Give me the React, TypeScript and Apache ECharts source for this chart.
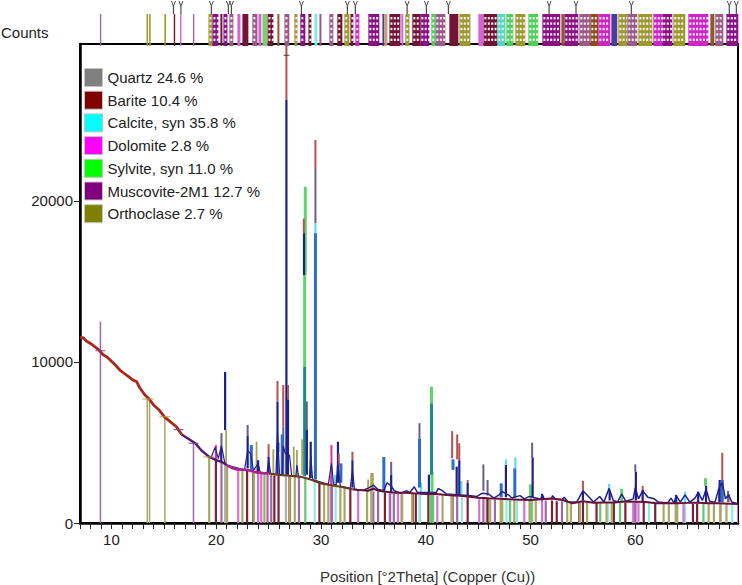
import React, { useEffect, useRef } from "react";
import * as echarts from "echarts";

type Row = number[];

const PHASE_NAMES = ["Quartz 24.6 %", "Barite 10.4 %", "Calcite, syn 35.8 %", "Dolomite 2.8 %", "Sylvite, syn 11.0 %", "Muscovite-2M1 12.7 %", "Orthoclase 2.7 %"];
const PHASE_COLORS = ["#808080", "#800000", "#00ffff", "#ff00ff", "#00ff00", "#800080", "#808000"];
const STICK_COLORS = ["#b8aeae", "#7c1f33", "#8fe9e6", "#d473d4", "#62c872", "#9c68a6", "#a9a862"];

const xTickValues = [7, 8, 9, 10, 11, 12, 13, 14, 15, 16, 17, 18, 19, 20, 21, 22, 23, 24, 25, 26, 27, 28, 29, 30, 31, 32, 33, 34, 35, 36, 37, 38, 39, 40, 41, 42, 43, 44, 45, 46, 47, 48, 49, 50, 51, 52, 53, 54, 55, 56, 57, 58, 59, 60, 61, 62, 63, 64, 65, 66, 67, 68, 69];
const xLabelValues = [10, 20, 30, 40, 50, 60];
const yTickValues = [0, 10000, 20000];

// Reference sticks [2theta, height] per phase
const quartzSticks: Row[] = [[26.65, 2900], [20.85, 3600], [27.05, 2800], [39.45, 1700], [36.55, 1800], [50.15, 1450], [42.45, 1700], [45.8, 1500], [60.0, 1300], [68.15, 1200]];
const bariteSticks: Row[] = [[19.97, 3850], [22.95, 3250], [23.55, 3150], [25.55, 2950], [25.95, 2950], [27.0, 2900], [29.85, 2500], [32.8, 2150], [36.1, 1900], [38.75, 1850], [39.05, 1800], [40.25, 1750], [40.65, 1750], [42.55, 1700], [44.0, 1600], [45.9, 1500], [50.0, 1450], [52.05, 1400], [52.5, 1350], [54.65, 1280], [55.0, 1300], [56.3, 1300], [57.95, 1280], [59.05, 1250], [60.8, 1300], [61.9, 1250], [65.5, 1200], [65.9, 1200]];
const calciteSticks: Row[] = [[29.4, 2600], [31.4, 2350], [39.4, 1700], [43.45, 1650], [47.7, 1450], [48.7, 1450], [57.4, 1280], [61.3, 1230], [64.75, 1200], [69.25, 1150]];
const dolomiteSticks: Row[] = [[22.1, 3300], [24.0, 3150], [24.3, 3100], [30.95, 2900], [33.55, 2050], [37.35, 1800], [41.1, 1700], [45.1, 1500], [49.4, 1400], [51.1, 1400], [59.8, 1250], [59.95, 1250], [60.3, 1250], [64.6, 1200], [69.8, 1150]];
const sylviteSticks: Row[] = [[28.5, 2750], [40.45, 1750], [40.7, 1750], [48.05, 1450], [50.05, 1500], [56.65, 1300], [58.55, 1280], [66.5, 1200]];
const muscoviteSticks: Row[] = [[8.95, 12500], [17.83, 4950], [20.5, 3750], [24.9, 3050], [25.25, 3000], [27.9, 2900], [31.05, 2350], [35.0, 1950], [35.45, 1950], [36.6, 1850], [36.95, 1800], [37.7, 1800], [43.0, 1650], [45.5, 1500], [46.6, 1450], [51.45, 1400], [53.0, 1350], [60.0, 1280]];
const orthoclaseSticks: Row[] = [[13.42, 7750], [13.64, 7700], [15.1, 6600], [19.33, 4150], [21.04, 3550], [22.5, 3280], [23.6, 3200], [24.6, 3050], [27.0, 2950], [27.5, 2900], [30.3, 2450], [30.7, 2400], [31.85, 2250], [32.25, 2200], [34.4, 2100], [34.8, 3100], [37.75, 1800], [38.7, 1850], [41.6, 1700], [42.5, 1720], [46.15, 1480], [47.15, 1450], [47.3, 1450], [48.45, 1420], [49.9, 1430], [50.5, 1400], [53.5, 1300], [53.85, 1280], [54.7, 1280], [55.4, 1280], [57.25, 1250], [57.75, 1250], [62.7, 1220], [63.2, 1220], [63.85, 1220], [64.0, 1220], [67.0, 1180], [67.5, 1180], [68.1, 1180], [68.7, 1170]];
const STICKS = [quartzSticks, bariteSticks, calciteSticks, dolomiteSticks, sylviteSticks, muscoviteSticks, orthoclaseSticks];

// Peak segments [2theta, low, high]
const peaksNavy: Row[] = [[26.7, 3000, 26300], [28.38, 15400, 18000], [20.85, 5770, 9380], [23.0, 3400, 5400], [25.85, 3000, 7530], [26.85, 3000, 7680], [28.65, 3000, 5800], [29.02, 2800, 5050], [31.62, 2500, 5050], [33.0, 2200, 3900], [20.48, 3800, 4620], [25.0, 3100, 4100], [24.0, 3100, 3900], [50.2, 1600, 4080], [47.65, 1600, 3600], [60.05, 1400, 3180], [68.05, 1300, 2670], [36.7, 1900, 3000], [44.0, 1700, 2500], [55.0, 1400, 2000], [57.55, 1400, 2000], [60.7, 1300, 2050], [63.9, 1200, 1750], [66.0, 1250, 1950], [66.75, 1250, 2300], [51.1, 1400, 1800], [42.95, 1700, 3500], [43.2, 1700, 3900], [40.3, 1800, 3000]];
const peaksBlue: Row[] = [[29.47, 2700, 18000], [23.35, 3300, 4840], [36.0, 1900, 4100], [39.4, 2200, 5250], [42.6, 3300, 3950], [48.5, 1600, 3400], [47.2, 1600, 2460], [68.3, 1300, 2670], [25.9, 4400, 5000], [31.9, 2500, 3700], [26.3, 3000, 5500]];
const peaksRed: Row[] = [[26.7, 26300, 29750], [29.47, 22050, 23790], [28.36, 18000, 18900], [25.85, 7530, 8820], [26.4, 6000, 8570], [26.85, 7680, 8570], [42.52, 4020, 5710], [43.0, 3950, 5500], [43.2, 3900, 4950], [68.3, 2670, 4360], [33.0, 3900, 4430], [31.7, 3500, 4300], [44.0, 2500, 2670], [55.0, 2000, 2620], [25.0, 4100, 4900], [60.7, 2050, 2300]];
const peaksSlate: Row[] = [[29.47, 18630, 22050], [23.0, 5400, 6090], [26.4, 3000, 6000], [39.4, 5250, 6200], [60.0, 3180, 3640], [50.15, 4080, 4990], [45.5, 2000, 3640], [68.85, 1300, 2000], [45.9, 1700, 2670], [36.7, 3000, 3800], [28.65, 5800, 7540], [20.5, 4620, 5580], [68.0, 1300, 2000]];
const peaksGreen: Row[] = [[28.44, 9690, 15400], [28.5, 15400, 20870], [40.55, 7430, 8470], [40.6, 1800, 3200], [58.7, 1300, 2130], [66.7, 2300, 2780], [50.0, 1500, 2400]];
const peaksTeal: Row[] = [[28.44, 2900, 9690], [40.55, 3000, 7430]];
const peaksCyan: Row[] = [[29.47, 18000, 18630], [47.65, 3600, 3950], [48.55, 3400, 4080], [39.55, 1700, 2500], [57.5, 2000, 2440], [64.75, 1200, 1950], [43.4, 1700, 2600], [31.35, 2350, 3000]];
const peaksOlive: Row[] = [[20.95, 3700, 5770], [23.85, 3200, 5050], [25.45, 3000, 4570], [27.4, 2900, 4740], [34.95, 2000, 3100], [34.5, 2000, 2700], [28.2, 3000, 5200], [27.7, 2900, 4530]];
const peaksPink: Row[] = [[31.0, 2400, 4840], [19.97, 3900, 4840], [68.9, 1300, 1800]];
const PEAK_SETS: [Row[], string, number][] = [
  [peaksOlive, "#a6a45a", 1.8], [peaksPink, "#d8309a", 2], [peaksSlate, "#6a5f86", 2], [peaksCyan, "#5fdfe4", 2.2],
  [peaksGreen, "#5ed56a", 3], [peaksTeal, "#1f8a80", 3], [peaksBlue, "#2f6cc4", 3], [peaksNavy, "#1c1f8c", 2.2], [peaksRed, "#b5524e", 2],
];

// Fitted profile pieces [2theta, counts]
const profileRed: Row[] = [[7, 11550], [7.3, 11500], [7.6, 11300], [8, 11150], [8.4, 10950], [8.8, 10750], [9.2, 10450], [9.6, 10300], [10, 10050], [10.4, 9800], [10.8, 9500], [11.2, 9300], [11.6, 9100], [12, 8900], [12.4, 8780], [12.7, 8400], [13.2, 7950], [13.6, 7700], [14, 7350], [14.5, 7050], [15.1, 6560], [15.6, 6300], [16.2, 5980], [16.7, 5500]];
const profilePurple: Row[] = [[16.7, 5500], [17.3, 5250], [18, 4950], [18.6, 4500], [19.3, 4120], [19.7, 4000], [20, 3900], [20.5, 3800], [21, 3600]];
const profileMagenta: Row[] = [[21, 3600], [21.5, 3420], [22, 3330], [23, 3290], [23.6, 3180], [24, 3130], [24.5, 3100], [25, 3080]];
const profileBrown: Row[] = [[25, 3080], [26, 2980], [27, 2930], [28, 2880], [29, 2700], [30, 2450], [31, 2350], [32, 2240], [33, 2100]];
const profileDark: Row[] = [[33, 2100], [33.5, 2050], [34, 2030], [34.5, 2000], [35, 2130], [35.5, 2000], [36, 1950], [37, 1885], [38, 1880], [39, 1840], [40, 1800], [41, 1800], [42, 1740], [43, 1700], [44, 1640], [45, 1570], [46, 1530], [47, 1500], [48, 1470], [49, 1450], [50, 1430], [51, 1470], [52, 1520], [53, 1440], [54, 1220], [55, 1350], [56, 1260], [57, 1280], [58, 1280], [59, 1330], [60, 1320], [61, 1300], [62, 1220], [63, 1230], [64, 1220], [65, 1250], [66, 1250], [67, 1230], [68, 1220], [69, 1200], [69.8, 1180]];
const profileBumps: Row[] = [[51, 1470], [51.1, 1800], [51.3, 1500], [52, 1520], [52.1, 1700], [52.4, 1480], [53, 1440], [53.2, 1600], [53.6, 1300], [54.4, 1300], [55, 2000], [55.6, 1600], [56, 1300], [56.6, 1650], [57, 1300], [57.5, 2150], [57.9, 1400], [58.3, 1300], [58.7, 1800], [59.1, 1350], [59.8, 1500], [60, 2200], [60.3, 1500], [60.7, 2000], [61.2, 1600], [61.8, 1500], [62.2, 1300], [63.1, 1250], [63.4, 1550], [63.7, 1250], [63.9, 1700], [64.3, 1300], [64.75, 1750], [65.2, 1300], [65.7, 1550], [66, 1900], [66.4, 1400], [66.75, 2100], [67.1, 1350], [67.6, 1280], [68, 2200], [68.3, 2500], [68.6, 1500], [68.9, 1750], [69.2, 1300], [69.8, 1200]];
const profileBumpsMid: Row[] = [[34, 2030], [34.6, 2200], [35, 2350], [35.4, 2100], [36, 2000], [36.3, 2500], [36.7, 2300], [37, 2000], [37.6, 1850], [38.2, 2000], [38.5, 1900], [38.9, 2250], [39.2, 1900], [41, 1900], [41.2, 2150], [41.6, 2000], [42, 1800], [44.3, 1700], [44.9, 1650], [45.4, 1850], [46, 1800], [46.5, 1550], [47, 1750], [47.3, 1950], [48, 1700], [48.2, 1550], [49, 1700], [49.4, 1500], [49.9, 1650], [50.8, 1500], [51, 1470]];
const profileBumpsLow: Row[] = [[19.5, 4050], [19.9, 4700], [20.2, 4000], [20.5, 4800], [20.8, 3800], [21, 3600], [22.7, 3300], [23, 4500], [23.3, 4300], [23.55, 3250], [24, 3700], [24.2, 3150], [24.85, 3100], [25, 3900], [25.2, 3080], [25.7, 3000], [25.85, 5600], [26.05, 3000], [26.3, 3000], [26.4, 4800], [26.6, 4300], [27, 4200], [27.2, 2950], [27.6, 2950], [27.7, 3600], [27.85, 2900], [28.9, 2750], [29.02, 4200], [29.2, 2700], [30.7, 2400], [31, 3700], [31.2, 2400], [31.45, 2350], [31.6, 3800], [31.85, 2300], [32.8, 2150], [33, 3300], [33.2, 2100], [34, 2030]];
const PROFILES: [Row[], string, number][] = [
  [profileBumpsLow, "#26208c", 1.2], [profileBumpsMid, "#26208c", 1.5], [profileBumps, "#1f2090", 1.5], [profileDark, "#6a1038", 2], [profileRed, "#a8281c", 2.8], [profilePurple, "#58186e", 2.4], [profileMagenta, "#b0208c", 2.6], [profileBrown, "#6e3a18", 2],
];

// Horizontal dashes of reference marks on the profile [2theta, counts]
const oliveDashes: Row[] = [[13.5, 7700], [15.1, 6600], [19.3, 4100]];
const purpleDashes: Row[] = [[8.95, 10700], [17.83, 4950], [16.4, 5800]];

// Strip of reference positions above the plot [from 2theta, to 2theta]
const stripOlive: Row[] = [[13.35, 13.5], [13.6, 13.75], [15.05, 15.2], [19.26, 19.64], [27.46, 27.75], [32.23, 32.71], [38.05, 38.44], [43.21, 44.26], [48.55, 49.5], [58.38, 59.24], [60.29, 61.62], [63.63, 64.77]];
const stripPurple: Row[] = [[19.64, 20.21], [20.69, 21.07], [28.03, 28.51], [34.52, 35.57], [39.48, 40.34], [51.13, 52.84], [53.23, 54.56], [62.58, 63.53], [68.69, 69.83]];
const stripMaroon: Row[] = [[20.4, 20.59], [24.89, 25.46], [28.8, 29.08], [31.56, 32.04], [32.81, 33.09], [38.72, 39.48], [45.5, 46.83], [36.53, 37.58]];
const stripMauve: Row[] = [[21.26, 21.64], [23.45, 23.93], [26.51, 26.98], [29.85, 30.04], [30.8, 31.18], [40.92, 41.87], [54.66, 55.71], [59.24, 60.19], [67.63, 68.4]];
const stripBrown: Row[] = [[55.71, 56.47]];
const stripGreen: Row[] = [[40.53, 40.92], [47.69, 48.36], [49.79, 50.74]];
const stripCyan: Row[] = [[46.83, 47.6]];
const stripMagenta: Row[] = [[33.28, 33.66], [56.47, 57.61], [61.72, 62.58], [65.06, 66.97]];
const solidMauve: Row[] = [[8.9, 9.0], [17.78, 17.88]];
const solidPink: Row[] = [[16.55, 16.65], [22.02, 22.31], [24.03, 24.31], [37.67, 37.86], [45.02, 45.5]];
const solidMaroon: Row[] = [[15.95, 16.05], [22.5, 23.07], [42.25, 43.11]];
const solidGreen: Row[] = [[24.41, 24.89]];
const solidBrown: Row[] = [[25.84, 26.03], [52.94, 53.23], [67.16, 67.54]];
const solidCyan: Row[] = [[29.37, 29.66]];
const solidIndigo: Row[] = [[35.86, 36.05], [57.71, 58.28]];
const solidTan: Row[] = [[36.05, 36.34]];
const STRIPS: [Row[], string, boolean][] = [
  [stripOlive, "#9c9a2c", true], [stripPurple, "#8c0f86", true], [stripMaroon, "#741434", true], [stripMauve, "#9c5a88", true],
  [stripBrown, "#8c4c1c", true], [stripGreen, "#4fcf58", true], [stripCyan, "#55d8c0", true], [stripMagenta, "#d024c8", true],
  [solidMauve, "#9c68a6", false], [solidPink, "#d860d8", false], [solidMaroon, "#741434", false], [solidGreen, "#7ccf70", false],
  [solidBrown, "#8a5a28", false], [solidCyan, "#7fecec", false], [solidIndigo, "#4f3aa0", false], [solidTan, "#c8a078", false],
];
const stripMarks = [15.92, 16.63, 19.54, 21.16, 21.45, 28.13, 32.52, 33.28, 38.22, 40.06, 42.16, 51.77, 54.34, 59.62, 68.97, 69.64];

const stickItem = (rows: Row[], color: string) => (p: any, api: any) => {
  const v = rows[p.dataIndex];
  const a = api.coord([v[0], 0]);
  const b = api.coord([v[0], v[1]]);
  return { type: "line", shape: { x1: a[0], y1: a[1], x2: b[0], y2: b[1] }, style: { stroke: color, lineWidth: v[0] < 19 ? 1.5 : 2.2 } };
};
const segItem = (rows: Row[], color: string, w: number) => (p: any, api: any) => {
  const r = rows[p.dataIndex];
  const a = api.coord([r[0], r[1]]);
  const b = api.coord([r[0], r[2]]);
  return { type: "line", shape: { x1: a[0], y1: a[1], x2: b[0], y2: b[1] }, style: { stroke: color, lineWidth: w } };
};
const bandItem = (rows: Row[], color: string, hatch: boolean) => (p: any, api: any) => {
  const r = rows[p.dataIndex];
  const a = api.coord([r[0], 0]);
  const b = api.coord([r[1], 32]);
  const x = a[0], w = Math.max(b[0] - a[0], 1.4), top = b[1], h = a[1] - b[1];
  const children: any[] = [{ type: "rect", shape: { x, y: top, width: w, height: h }, style: { fill: color } }];
  if (hatch) {
    for (let cx = x + 1; cx + 1.4 <= x + w + 0.3; cx += 3.4) {
      for (let cy = top + 3; cy + 2 < top + h - 1; cy += 5.4) {
        children.push({ type: "rect", shape: { x: cx, y: cy, width: 2, height: 2.4 }, style: { fill: "#f4f0f4" } });
      }
    }
  }
  return { type: "group", children };
};
const markItem = (p: any, api: any) => {
  const a = api.coord([stripMarks[p.dataIndex], 32]);
  const b = api.coord([stripMarks[p.dataIndex], 40]);
  const stroke = "#4a4a4a";
  return {
    type: "group",
    children: [
      { type: "line", shape: { x1: a[0], y1: a[1], x2: b[0], y2: b[1] }, style: { stroke, lineWidth: 1.2 } },
      { type: "line", shape: { x1: b[0], y1: b[1], x2: b[0] - 2, y2: b[1] - 5 }, style: { stroke, lineWidth: 1 } },
      { type: "line", shape: { x1: b[0], y1: b[1], x2: b[0] + 2, y2: b[1] - 5 }, style: { stroke, lineWidth: 1 } },
    ],
  };
};

export default function App() {
  const ref = useRef<HTMLDivElement>(null);
  useEffect(() => {
    const chart = echarts.init(ref.current!, undefined, { renderer: "svg" });
    const font = "'Liberation Sans', Arial, sans-serif";
    const series: any[] = [];
    STICKS.forEach((rows, i) => {
      series.push({
        type: "custom", name: PHASE_NAMES[i], xAxisIndex: 0, yAxisIndex: 0, clip: true, silent: true, z: 2,
        itemStyle: { color: PHASE_COLORS[i] },
        data: rows, encode: { x: 0, y: 1 }, renderItem: stickItem(rows, STICK_COLORS[i]),
      });
    });
    PEAK_SETS.forEach(([rows, color, w]) => {
      series.push({ type: "custom", xAxisIndex: 0, yAxisIndex: 0, clip: true, silent: true, z: 3, data: rows, encode: { x: 0, y: [1, 2] }, renderItem: segItem(rows, color, w) });
    });
    PROFILES.forEach(([rows, color, w]) => {
      series.push({ type: "line", xAxisIndex: 0, yAxisIndex: 0, data: rows, symbol: "none", silent: true, z: 4, lineStyle: { color, width: w } });
    });
    series.push({ type: "scatter", xAxisIndex: 0, yAxisIndex: 0, data: oliveDashes, symbol: "rect", symbolSize: [11, 1.2], silent: true, z: 5, itemStyle: { color: "#a6a040" } });
    series.push({ type: "scatter", xAxisIndex: 0, yAxisIndex: 0, data: purpleDashes, symbol: "rect", symbolSize: [10, 1.2], silent: true, z: 5, itemStyle: { color: "#7a3a96" } });
    series.push({ type: "scatter", xAxisIndex: 0, yAxisIndex: 0, data: [[26.7, 29050]], symbol: "rect", symbolSize: [6, 1], silent: true, z: 5, itemStyle: { color: "#222" } });
    STRIPS.forEach(([rows, color, hatch]) => {
      series.push({ type: "custom", xAxisIndex: 1, yAxisIndex: 1, clip: false, silent: true, z: 6, data: rows, encode: { x: [0, 1] }, renderItem: bandItem(rows, color, hatch) });
    });
    series.push({ type: "custom", xAxisIndex: 1, yAxisIndex: 1, clip: false, silent: true, z: 6, data: stripMarks.map((v) => [v]), encode: { x: 0 }, renderItem: markItem });

    chart.setOption({
      animation: false,
      backgroundColor: "#ffffff",
      graphic: [{ type: "text", left: 1, top: 25, style: { text: "Counts", fill: "#222", font: `15px ${font}` } }],
      legend: {
        orient: "vertical", left: 84, top: 68, padding: 0, itemWidth: 18, itemHeight: 18, itemGap: 3.7, icon: "rect", selectedMode: false, itemStyle: { borderColor: "#c4c4c4", borderWidth: 1 },
        textStyle: { fontFamily: font, fontSize: 15, color: "#222" },
        data: PHASE_NAMES,
      },
      grid: [
        { left: 80, right: 4, top: 44, bottom: 62, show: true, borderColor: "#000", borderWidth: 2, backgroundColor: "transparent", outerBoundsMode: "none" },
        { left: 80, right: 4, top: 3, height: 43, show: false, outerBoundsMode: "none" },
      ],
      xAxis: [
        {
          type: "value", gridIndex: 0, min: 7, max: 69.8, position: "bottom", splitLine: { show: false },
          axisLine: { show: true, onZero: false, lineStyle: { color: "#000", width: 2.5 } },
          axisTick: { show: true, customValues: xTickValues, length: 6, lineStyle: { color: "#222", width: 1 } },
          axisLabel: { customValues: xLabelValues, fontFamily: font, fontSize: 15, color: "#222", margin: 9 },
          name: "Position [°2Theta] (Copper (Cu))", nameLocation: "middle", nameGap: 46,
          nameTextStyle: { fontFamily: font, fontSize: 15, color: "#333", padding: [0, 0, 0, 37] },
        },
        { type: "value", gridIndex: 1, min: 7, max: 69.8, show: false },
      ],
      yAxis: [
        {
          type: "value", gridIndex: 0, min: 0, max: 29750, splitLine: { show: false },
          axisLine: { show: true, lineStyle: { color: "#000", width: 2.5 } },
          axisTick: { show: true, customValues: yTickValues, length: 6, lineStyle: { color: "#222", width: 1 } },
          axisLabel: { customValues: yTickValues, formatter: (v: number) => String(v), fontFamily: font, fontSize: 15, color: "#222", margin: 7 },
        },
        { type: "value", gridIndex: 1, min: 0, max: 43, show: false },
      ],
      series,
    });
    return () => chart.dispose();
  }, []);
  return <div ref={ref} style={{ position: "fixed", left: 0, top: 0, width: 742, height: 585 }} />;
}
